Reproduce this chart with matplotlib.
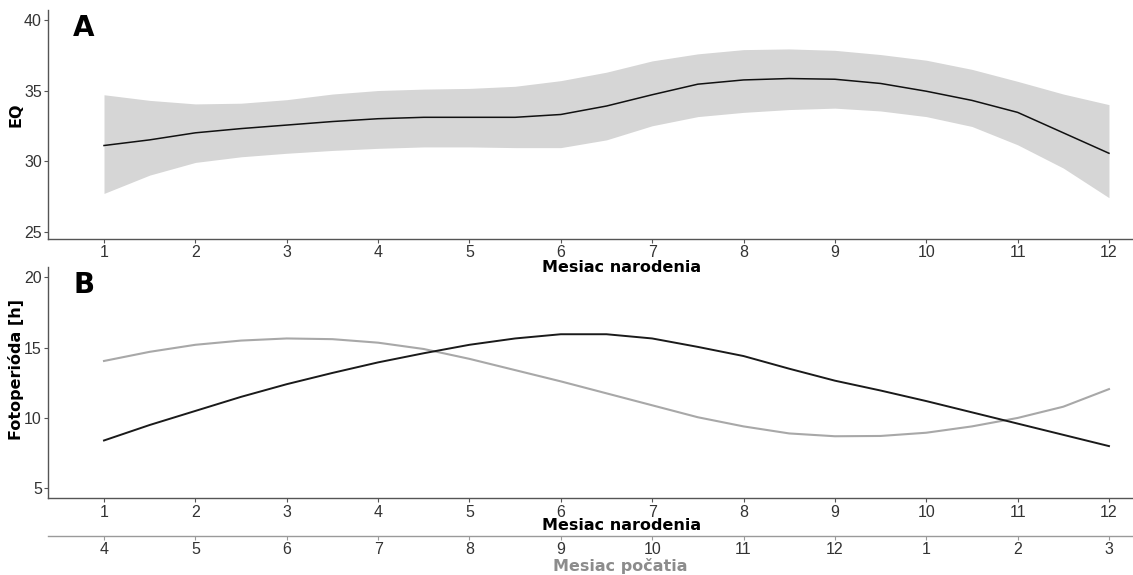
import matplotlib
matplotlib.use("Agg")
import matplotlib.pyplot as plt

# ---------------- data ----------------
months_fine = [1, 1.5, 2, 2.5, 3, 3.5, 4, 4.5, 5, 5.5, 6, 6.5, 7, 7.5, 8, 8.5,
               9, 9.5, 10, 10.5, 11, 11.5, 12]

eq_fit = [31.1, 31.5, 32.0, 32.3, 32.55, 32.8, 33.0, 33.1, 33.1, 33.1, 33.3,
          33.9, 34.7, 35.45, 35.75, 35.85, 35.8, 35.5, 34.95, 34.3, 33.45, 32.0, 30.55]
eq_upper = [34.7, 34.3, 34.05, 34.1, 34.35, 34.75, 35.0, 35.1, 35.15, 35.3, 35.7,
            36.3, 37.1, 37.6, 37.9, 37.95, 37.85, 37.55, 37.15, 36.5, 35.65, 34.75, 34.0]
eq_lower = [27.7, 29.0, 29.9, 30.3, 30.55, 30.75, 30.9, 31.0, 31.0, 30.95, 30.95,
            31.5, 32.5, 33.15, 33.45, 33.65, 33.75, 33.55, 33.15, 32.45, 31.15, 29.5, 27.4]

photo_birth = [8.4, 9.5, 10.5, 11.5, 12.4, 13.2, 13.95, 14.6, 15.2, 15.65, 15.95,
               15.95, 15.65, 15.05, 14.4, 13.5, 12.65, 11.95, 11.2, 10.4, 9.6, 8.8, 8.0]
photo_conception = [14.05, 14.7, 15.2, 15.5, 15.65, 15.6, 15.35, 14.9, 14.2, 13.4, 12.6,
                    11.75, 10.9, 10.05, 9.4, 8.9, 8.7, 8.72, 8.95, 9.4, 10.0, 10.8, 12.05]

month_ticks = list(range(1, 13))
conception_labels = ["4", "5", "6", "7", "8", "9", "10", "11", "12", "1", "2", "3"]
eq_yticks = [25, 30, 35, 40]
photo_yticks = [5, 10, 15, 20]

# ---------------- figure ----------------
W, H = 1133, 575
fig = plt.figure(figsize=(W / 100, H / 100), dpi=100)

tick_font = dict(family="Liberation Sans", size=11.5, color="#333333")
title_font = dict(family="DejaVu Sans", weight="bold", size=11.5)

def fx(px):
    return px / W

def fy(py):
    return 1 - py / H

xl = (0.387, 12.263)

def style(ax):
    for s in ["top", "right"]:
        ax.spines[s].set_visible(False)
    for s in ["left", "bottom"]:
        ax.spines[s].set_color("#555555")
        ax.spines[s].set_linewidth(1.0)
    ax.tick_params(axis="both", length=3, width=0.8, color="#555555", pad=1.5)
    ax.set_xticks(month_ticks)
    ax.set_xticklabels([str(m) for m in month_ticks], fontdict=tick_font)
    ax.set_xlim(*xl)

# Panel A
axA = fig.add_axes([fx(48), fy(239), fx(1133 - 48), (239 - 10) / H])
style(axA)
axA.fill_between(months_fine, eq_lower, eq_upper, color="#d6d6d6", linewidth=0)
axA.plot(months_fine, eq_fit, color="#111111", linewidth=1.1)
axA.set_ylim(24.47, 40.71)
axA.set_yticks(eq_yticks)
axA.set_yticklabels([str(v) for v in eq_yticks], fontdict=tick_font)

# Panel B
axB = fig.add_axes([fx(48), fy(498.3), fx(1133 - 48), (498.3 - 266.7) / H])
style(axB)
axB.plot(months_fine, photo_conception, color="#a8a8a8", linewidth=1.5)
axB.plot(months_fine, photo_birth, color="#1a1a1a", linewidth=1.4)
axB.set_ylim(4.29, 20.75)
axB.set_yticks(photo_yticks)
axB.set_yticklabels([str(v) for v in photo_yticks], fontdict=tick_font)

# secondary axis (month of conception)
sec_loc = -(536 - 498.3) / (498.3 - 266.7)
sec = axB.secondary_xaxis(sec_loc)
sec.set_xticks(month_ticks)
sec.set_xticklabels(conception_labels, fontdict=tick_font)
sec.spines["bottom"].set_color("#9a9a9a")
sec.spines["bottom"].set_linewidth(1.0)
sec.tick_params(axis="x", length=3, width=0.8, color="#9a9a9a", pad=1.5)

# titles
fig.text(fx(622), fy(268), "Mesiac narodenia", ha="center", va="center", **title_font)
fig.text(fx(622), fy(526), "Mesiac narodenia", ha="center", va="center", **title_font)
fig.text(fx(620), fy(566), "Mesiac počatia", ha="center", va="center",
         color="#8c8c8c", **title_font)
fig.text(fx(16), fy(115), "EQ", ha="center", va="center", rotation=90, **title_font)
fig.text(fx(16), fy(370), "Fotoperióda [h]", ha="center", va="center", rotation=90, **title_font)

fig.text(fx(84), fy(28), "A", ha="center", va="center", family="DejaVu Sans",
         weight="heavy", size=20)
fig.text(fx(84), fy(285), "B", ha="center", va="center", family="DejaVu Sans",
         weight="heavy", size=20)

fig.savefig("out.png", dpi=100)
